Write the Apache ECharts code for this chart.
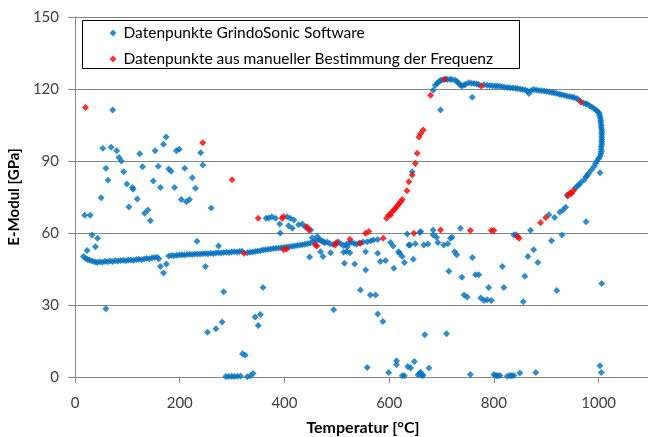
<!DOCTYPE html>
<html>
<head>
<meta charset="utf-8">
<script src="https://cdn.jsdelivr.net/npm/echarts@6/dist/echarts.min.js"></script>
<style>
html,body{margin:0;padding:0;background:#fff;}
#chart{width:648px;height:437px;}
</style>
</head>
<body>
<div id="chart"></div>
<script>
// ---------- DATA ----------
const seriesNames = ['Datenpunkte GrindoSonic Software', 'Datenpunkte aus manueller Bestimmung der Frequenz'];
const xTickValues = [0, 200, 400, 600, 800, 1000];
const yTickValues = [0, 30, 60, 90, 120, 150];

// blue: baseline heating branch (left part)
const blueBaseline1 = [[16,50.2],[20,49.5],[24,49],[28,48.6],[33,48.3],[38,48],[42,47.7],[47,48],[52,47.8],[57,48.2],[62,48],[67,48.3],[72,48.1],[77,48.4],[82,48.3],[87,48.5],[92,48.6],[97,48.4],[102,48.7],[107,48.8],[112,48.6],[117,49],[122,49.1],[127,48.9],[132,49.2],[137,49.4],[142,49.3],[147,49.6],[152,49.8],[157,49.9],[160,49.3],[163,46],[169,43.3],[174.5,47.1]];
const blueBaseline2 = [[179,50.4],[184,50.6],[189,50.5],[194,50.7],[199,50.8],[204,50.9],[209,50.8],[214,51],[219,51.1],[224,51],[229,51.2],[234,51.3],[239,51.2],[244,51.4],[249,51.5],[254,51.4],[259,51.6],[264,51.5],[269,51.7],[274,51.8],[279,51.7],[284,51.9],[289,52],[294,51.9],[299,52.1],[304,52.2],[309,52.1],[314,52.3],[319,52.4],[329,51.8],[334,52],[339,52.1],[344,52.3],[349,52.5],[354,52.6],[359,52.9],[364,53],[369,53.2],[374,53.3],[379,53.5],[384,53.6],[389,53.8],[394,53.9],[399,54],[404,54.2],[409,54.3],[414,54.5],[419,54.6],[424,54.8],[429,55],[434,55.1],[439,55.3],[444,55.5],[449,55.7]];
const blueHump = [[365,66.1],[370,66.3],[376,66.8],[383,66.1],[391,63.8],[392,60],[405,66.8],[411,66.1],[418,65.4],[408,63],[415,62],[427,63.4],[434,63.8],[440,62.5],[450,61.3],[453,58],[462.6,58.5],[469,57.1],[475,56.4]];
const blueMiddle = [[455,56.4],[460,56.8],[466,57.2],[472,56.6],[477,55.9],[482,56.2],[487,55.5],[493,55.2],[503,56.3],[508,55.4],[513,54.8],[518,55.3],[520,54.3],[523,55.7],[528,56.1],[533,55.6],[538,55.3],[543,55.8],[550,56.2],[558,56.4],[565,56.8],[570,57.1],[578,57.3],[448,50],[469,52.2],[473.5,50.2],[488,51.8],[514.6,47.4],[534,47.1],[555,44.6],[545,36.3],[564,34.2],[574,34.2],[494,28],[578,26.3],[588,23.1],[513,52],[519,52.3],[525,51.8],[555,52.2],[578,51.6],[583,48.1],[593,48.5]];
const blueRight = [[602.5,56],[607.5,54.6],[618,52.2],[620,51.6],[624.8,50.2],[629,47.7],[609,45.3],[646,49.1],[639.5,55],[634.5,59.6],[637.5,55],[650,55.5],[660,60.6],[666,55],[674,55.4],[684,61.3],[684,59.2],[690.5,58.2],[693,56],[704,55],[712,55.5],[717,57.8],[720,58.2],[725,52.2],[729,50.9],[714,44.1],[739,41.6],[736,62],[759,49.8],[765,42.6],[771,42.6],[743,34.2],[749,33.3],[775,32.9],[781,31.9],[787,32.2],[795,31.9],[790,37.3],[816,46],[819,37.3],[856,31.4],[859,42],[865,50.2],[876,53],[884,47.7],[910,56.8],[930,59.2],[920,36],[976,64.7],[1006,39],[668,17.6],[709.5,18],[658.5,60.2],[644,85.5]];
const blueTopArc = [[684,119.5],[688,121.6],[692,122.5],[695,123],[698,123.5],[701,123.7],[708,124.2],[711,124],[716,124.1],[720,124],[726,123.7],[730,123],[733,122.3],[736,121.7],[739,121.2],[743,121.7],[746,122],[752,122.6],[757,122.4],[762,122.3],[767,122.1],[771,121.9],[781,121.8],[787,121.6],[792,121.5],[797,121.4],[802,121.3],[806,121.2],[811,121.1],[816,120.9],[821,120.7],[826,120.6],[831,120.5],[836,120.4],[841,120.3],[845,120.2],[850,120],[855,119.8],[860,119.6],[864,119.2],[867,118.1],[871,119.4],[876,119.8],[881,119.6],[886,119.4],[891,119.3],[896,119.2],[901,119],[906,118.8],[911,118.5],[915,118.4],[920,118.1],[925,117.8],[929,117.6],[934,117.4],[939,117.1],[944,116.9],[949,116.7],[953,116.5],[958,116],[962,115.5],[971,114.2],[975,113.9],[978,113.7],[983,113],[987,112.5],[991,111.9],[995,111.2],[998,110.6],[1001,110],[698,111.2],[758.6,116.6]];
const blueCooling = [[1002,109],[1003,108],[1004,107],[1004,106],[1005,105],[1005,104],[1006,103],[1006,102],[1006,101],[1006,100],[1006,99],[1006,98],[1006,97],[1005,96],[1005,95],[1005,94],[1004,93],[1003,92],[1002.6,85.1],[1000,91],[997,90],[994,89],[991,87.6],[986,86.2],[981,84.9],[978,84],[976,83.4],[972,82.1],[966,81],[962,80],[959,79.5],[955,78.6],[940,75.8],[937,70.7],[932,69.6],[926,68.6],[916,66.5],[905,67.6],[870,61.1],[842,59.3],[838,59.2]];
const blueScatterLeft = [[72,111.2],[53,95.3],[69,95.7],[79.5,94.3],[84,91.5],[88.5,90],[59,87],[63,82],[50,74.7],[18.5,67.4],[29,67.4],[32.5,59.2],[43,57.8],[39,54.3],[23,52.7],[93,85.5],[99,80.4],[109.5,79],[111,78.2],[119,74.2],[103,70.8],[133,68.2],[139,69.6],[144,65.1],[123.5,93],[129,87.6],[149.6,81.7],[163,79],[153,94.3],[169,97],[174,100],[159,87.8],[179,86.7],[183.5,85.7],[193.6,94.3],[199,94.9],[190,79],[209.5,87],[224,83],[230,78.6],[203,74],[212.7,73],[218.5,74],[240,93.4],[244,88.3],[260,70.4],[233,56.6],[274,54.6],[249,46],[59,28.4],[284,35.5],[359,37.3],[281,22.9],[269,20.1],[253,18.6],[320,9.7],[325,9.1],[344,25],[354,26],[350,21.5]];
const blueZeroes = [[288,0.2],[293,0.2],[299,0.3],[304,0.2],[310,0.3],[316,0.4],[329,0.1],[335,0.5],[340,1.5],[558,4],[599,1.9],[614,6.8],[614,5.1],[625,0.5],[629,0.5],[635.6,4.4],[641,3.7],[648,6.5],[655,0.8],[658,1.5],[660,2],[662,0.6],[665,0.7],[676,3.7],[755,1],[800,1],[804,0.6],[807,0.5],[811.5,0.6],[825.5,0.3],[830.6,0.6],[834,0.5],[838,0.6],[849.6,1.7],[880,1.9],[1002.5,4.7],[1005,1.9]];

// red: manual determination
const redManual = [[20,112.3],[244,97.6],[300,82.2],[323,51.6],[350,66.1],[395.5,66.1],[398,66.8],[398.6,53],[404,53.3],[443,62.6],[446.5,61.3],[459,55],[462,54.6],[497,55],[499.5,56],[525,57.4],[545,55.7],[555,59.9],[561,60.6],[588.6,57.8],[595,66.1],[599,67.5],[602.6,67.5],[605.5,68.9],[609,69.6],[612,70.3],[615.5,71.3],[618,72.1],[621.7,73],[625,74],[634,77.6],[637.5,81.4],[644,84.2],[650,89],[653.5,93.2],[657,100],[660,101.5],[665,102.9],[679,117.4],[705.7,124],[776,121.2],[966,114.6],[647,59.9],[698,61.3],[755,61],[795,61],[800,61],[845,58.5],[848,57.8],[889,64.3],[899,66.5],[941,75.4],[946,76.8],[948,76.5],[952,77.6]];

const blueAll = [].concat(blueBaseline1, blueBaseline2, blueHump, blueMiddle, blueRight, blueTopArc, blueCooling, blueScatterLeft, blueZeroes);

// ---------- CHART ----------
const chart = echarts.init(document.getElementById('chart'), null, {renderer: 'canvas'});
const FONT = 'Lato';
chart.setOption({
  animation: false,
  backgroundColor: '#ffffff',
  grid: {left: 75, top: 17, width: 576, bottom: 60, containLabel: false, outerBoundsMode: 'none'},
  xAxis: {
    type: 'value', min: 0, max: 1100, interval: 200,
    name: 'Temperatur [°C]', nameLocation: 'middle', nameGap: 43,
    nameTextStyle: {fontFamily: FONT, fontWeight: 'bold', fontSize: 16, color: '#000'},
    axisLine: {show: true, lineStyle: {color: '#868686', width: 1}},
    axisTick: {show: true, length: 6, lineStyle: {color: '#868686'}},
    axisLabel: {fontFamily: FONT, fontSize: 15, color: '#404040', margin: 19, showMaxLabel: false,
      formatter: v => xTickValues.includes(v) ? String(v) : ''},
    splitLine: {show: false}
  },
  yAxis: {
    type: 'value', min: 0, max: 150, interval: 30,
    name: 'E-Modul [GPa]', nameLocation: 'middle', nameGap: 46,
    nameTextStyle: {fontFamily: FONT, fontWeight: 'bold', fontSize: 15, color: '#000'},
    axisLine: {show: true, lineStyle: {color: '#868686', width: 1}},
    axisTick: {show: true, length: 7, lineStyle: {color: '#868686'}},
    axisLabel: {fontFamily: FONT, fontSize: 15, color: '#404040', margin: 16,
      formatter: v => yTickValues.includes(v) ? String(v) : ''},
    splitLine: {show: true, lineStyle: {color: '#868686', width: 1}}
  },
  legend: {
    orient: 'vertical', left: 109.5, top: 25, padding: 0,
    itemWidth: 7, itemHeight: 7, itemGap: 10,
    textStyle: {fontFamily: FONT, fontSize: 15.5, color: '#000', lineHeight: 16, padding: [0,0,0,2]},
    data: seriesNames
  },
  graphic: [{
    type: 'rect', shape: {x: 82.5, y: 20.5, width: 437, height: 48},
    style: {fill: 'rgba(0,0,0,0)', stroke: '#000', lineWidth: 1}, z: 100
  }],
  series: [
    {name: seriesNames[0], type: 'scatter', symbol: 'diamond', symbolSize: 7,
     itemStyle: {color: '#0070C0'}, data: blueAll, z: 2},
    {name: seriesNames[1], type: 'scatter', symbol: 'diamond', symbolSize: 7,
     itemStyle: {color: '#FF0000'}, data: redManual, z: 3}
  ]
});
</script>
</body>
</html>
